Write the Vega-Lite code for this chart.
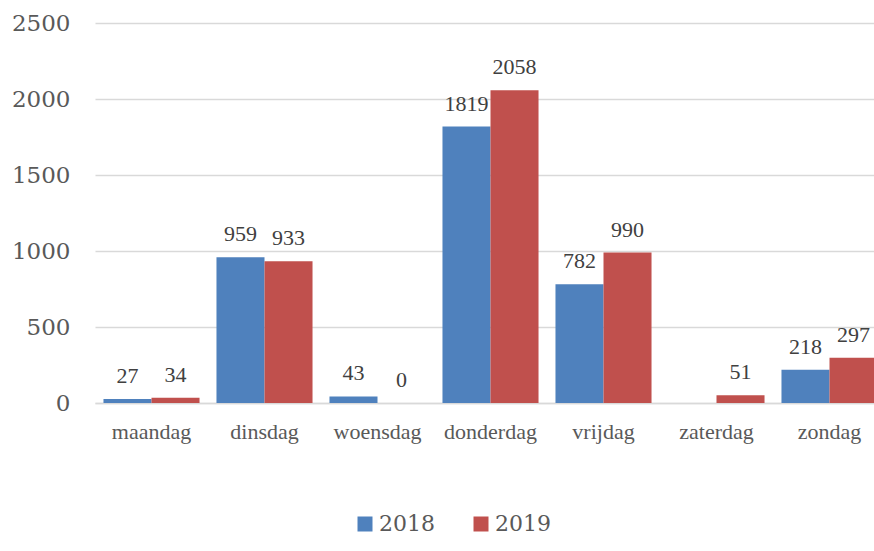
{
  "$schema": "https://vega.github.io/schema/vega-lite/v6.json",
  "width": 779,
  "height": 380,
  "autosize": {"type": "none"},
  "padding": {"left": 95, "top": 23, "right": 0, "bottom": 148},
  "background": "white",
  "config": {
    "view": {"stroke": null},
    "font": "DejaVu Serif"
  },
  "data": {
    "values": [
      {"dag": "maandag", "jaar": "2018", "aantal": 27},
      {"dag": "maandag", "jaar": "2019", "aantal": 34},
      {"dag": "dinsdag", "jaar": "2018", "aantal": 959},
      {"dag": "dinsdag", "jaar": "2019", "aantal": 933},
      {"dag": "woensdag", "jaar": "2018", "aantal": 43},
      {"dag": "woensdag", "jaar": "2019", "aantal": 0},
      {"dag": "donderdag", "jaar": "2018", "aantal": 1819},
      {"dag": "donderdag", "jaar": "2019", "aantal": 2058},
      {"dag": "vrijdag", "jaar": "2018", "aantal": 782},
      {"dag": "vrijdag", "jaar": "2019", "aantal": 990},
      {"dag": "zaterdag", "jaar": "2019", "aantal": 51},
      {"dag": "zondag", "jaar": "2018", "aantal": 218},
      {"dag": "zondag", "jaar": "2019", "aantal": 297}
    ]
  },
  "encoding": {
    "x": {
      "field": "dag",
      "type": "nominal",
      "sort": ["maandag", "dinsdag", "woensdag", "donderdag", "vrijdag", "zaterdag", "zondag"],
      "scale": {"range": [0, 791], "paddingInner": 0.15, "paddingOuter": 0.075},
      "axis": {
        "title": null,
        "labelAngle": 0,
        "labelFont": "Liberation Serif",
        "labelFontSize": 22,
        "labelColor": "#595959",
        "labelPadding": 18,
        "ticks": false,
        "domainColor": "#d9d9d9",
        "domainWidth": 1.5,
        "grid": false
      }
    },
    "xOffset": {"field": "jaar", "type": "nominal", "sort": ["2018", "2019"]},
    "y": {
      "field": "aantal",
      "type": "quantitative",
      "scale": {"domain": [0, 2500], "nice": false},
      "axis": {
        "title": null,
        "values": [0, 500, 1000, 1500, 2000, 2500],
        "format": "d",
        "labelFont": "DejaVu Serif",
        "labelFontSize": 23,
        "labelColor": "#595959",
        "labelPadding": 25,
        "ticks": false,
        "domain": false,
        "gridColor": "#d9d9d9",
        "gridWidth": 1.3
      }
    }
  },
  "layer": [
    {
      "mark": {"type": "bar"},
      "encoding": {
        "color": {
          "field": "jaar",
          "type": "nominal",
          "scale": {"domain": ["2018", "2019"], "range": ["#4F81BD", "#C0504D"]},
          "legend": {
            "title": null,
            "orient": "none",
            "direction": "horizontal",
            "legendX": 259,
            "legendY": 490,
            "symbolType": "square",
            "symbolSize": 225,
            "symbolStrokeWidth": 0,
            "labelFont": "DejaVu Serif",
            "labelFontSize": 22,
            "labelColor": "#595959",
            "labelOffset": 3,
            "columnPadding": 35
          }
        }
      }
    },
    {
      "mark": {"type": "text", "baseline": "alphabetic", "dy": -16, "fontSize": 22, "font": "Liberation Serif", "color": "#404040"},
      "encoding": {
        "text": {"field": "aantal", "type": "quantitative"}
      }
    }
  ]
}
